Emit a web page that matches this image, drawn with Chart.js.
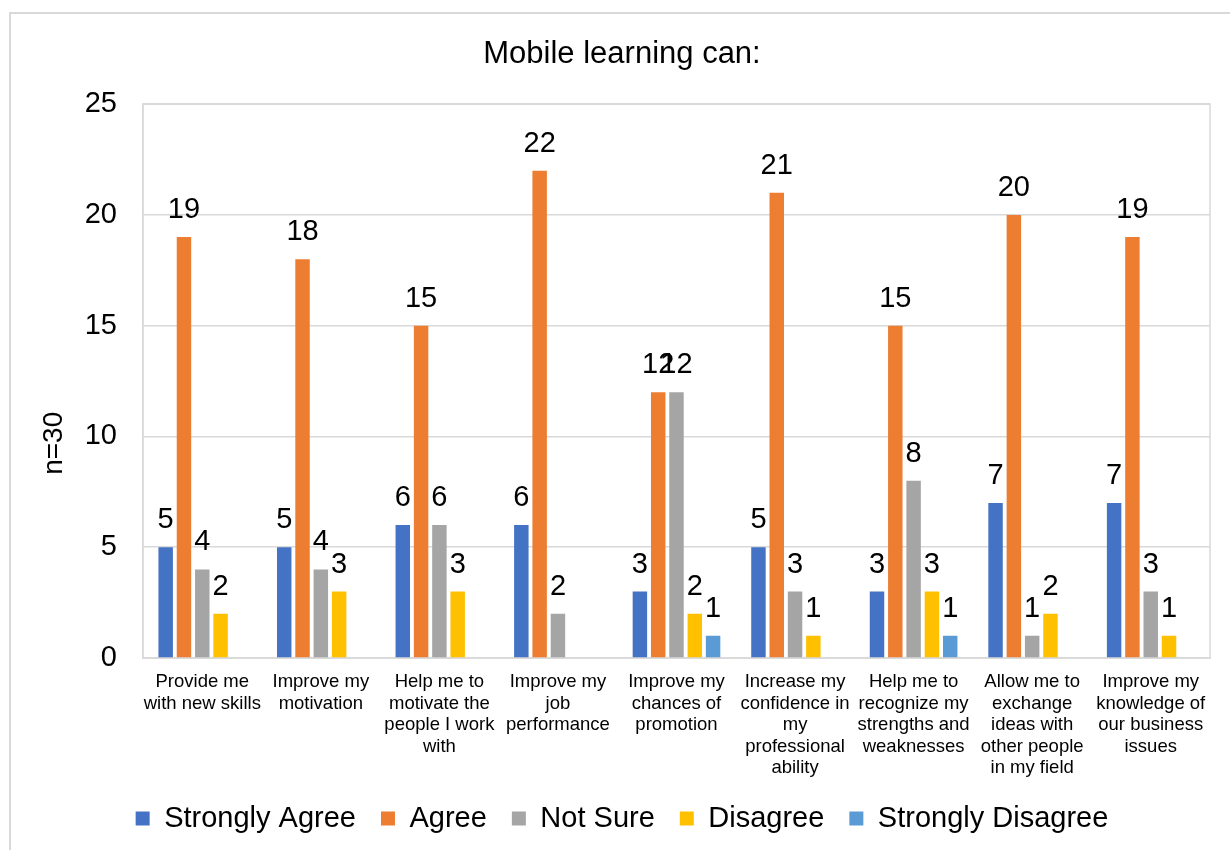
<!DOCTYPE html>
<html>
<head>
<meta charset="utf-8">
<title>Mobile learning can:</title>
<script src="https://cdn.jsdelivr.net/npm/chart.js@4.4.1/dist/chart.umd.min.js"></script>
<style>
    body { margin: 0; background: #fff; }
    canvas { display: block; }
</style>
</head>
<body>
<canvas id="mlChart" width="1230" height="850"></canvas>
<script>
// categories, wrapped the way the original labels wrap
const categories = [
    ['Provide me', 'with new skills'],
    ['Improve my', 'motivation'],
    ['Help me to', 'motivate the', 'people I work', 'with'],
    ['Improve my', 'job', 'performance'],
    ['Improve my', 'chances of', 'promotion'],
    ['Increase my', 'confidence in', 'my', 'professional', 'ability'],
    ['Help me to', 'recognize my', 'strengths and', 'weaknesses'],
    ['Allow me to', 'exchange', 'ideas with', 'other people', 'in my field'],
    ['Improve my', 'knowledge of', 'our business', 'issues']
];

const stronglyAgree    = [5, 5, 6, 6, 3, 5, 3, 7, 7];
const agree            = [19, 18, 15, 22, 12, 21, 15, 20, 19];
const notSure          = [4, 4, 6, 2, 12, 3, 8, 1, 3];
const disagree         = [2, 3, 3, 0, 2, 1, 3, 2, 1];
const stronglyDisagree = [0, 0, 0, 0, 1, 0, 1, 0, 0];

const yTicks = [0, 5, 10, 15, 20, 25];

const FONT = "'Liberation Sans', Arial, sans-serif";
const GRID = '#d9d9d9';

// value labels above each non-zero bar
const barLabels = {
    id: 'barLabels',
    afterDatasetsDraw(chart) {
        const ctx = chart.ctx;
        ctx.save();
        ctx.font = '29px ' + FONT;
        ctx.fillStyle = '#000';
        ctx.textAlign = 'center';
        ctx.textBaseline = 'alphabetic';
        chart.data.datasets.forEach((ds, i) => {
            const meta = chart.getDatasetMeta(i);
            meta.data.forEach((bar, j) => {
                const v = ds.data[j];
                if (!v) return;
                ctx.fillText(String(v), bar.x, bar.y - 19);
            });
        });
        ctx.restore();
    }
};

// outer chart frame + box around the plot area
const frames = {
    id: 'frames',
    beforeDraw(chart) {
        const ctx = chart.ctx;
        ctx.save();
        ctx.fillStyle = '#fff';
        ctx.fillRect(0, 0, chart.width, chart.height);
        ctx.strokeStyle = GRID;
        ctx.lineWidth = 2;
        ctx.strokeRect(10, 13, chart.width + 20, chart.height + 20);
        ctx.restore();
    },
    beforeDatasetsDraw(chart) {
        const a = chart.chartArea;
        const ctx = chart.ctx;
        ctx.save();
        ctx.strokeStyle = GRID;
        ctx.lineWidth = 1.5;
        ctx.strokeRect(a.left, a.top, a.right - a.left, a.bottom - a.top);
        ctx.restore();
    }
};

const ctx = document.getElementById('mlChart').getContext('2d');
const chart = new Chart(ctx, {
    type: 'bar',
    data: {
        labels: categories,
        datasets: [
            { label: 'Strongly Agree', data: stronglyAgree, backgroundColor: '#4472c4' },
            { label: 'Agree', data: agree, backgroundColor: '#ed7d31' },
            { label: 'Not Sure', data: notSure, backgroundColor: '#a5a5a5' },
            { label: 'Disagree', data: disagree, backgroundColor: '#ffc000' },
            { label: 'Strongly Disagree', data: stronglyDisagree, backgroundColor: '#5b9bd5' }
        ]
    },
    options: {
        responsive: false,
        animation: false,
        devicePixelRatio: 1,
        categoryPercentage: 0.772,
        barPercentage: 0.79,
        layout: { padding: { left: 34, right: 20, top: 0, bottom: 7 } },
        plugins: {
            title: {
                display: true,
                text: 'Mobile learning can:',
                color: '#000',
                font: { family: FONT, size: 31, weight: 'normal', lineHeight: 1.2 },
                padding: { top: 36, bottom: 31 }
            },
            legend: {
                position: 'bottom',
                labels: {
                    color: '#000',
                    font: { family: FONT, size: 29 },
                    boxWidth: 14,
                    boxHeight: 14,
                    padding: 25
                }
            },
            tooltip: { enabled: false }
        },
        scales: {
            x: {
                grid: { display: false },
                border: { display: true, color: GRID, width: 1.5 },
                ticks: {
                    color: '#000',
                    font: { family: FONT, size: 18.5, lineHeight: 1.17 },
                    padding: 5,
                    maxRotation: 0,
                    autoSkip: false
                },
                afterFit(scale) { scale.height = 121; }
            },
            y: {
                min: yTicks[0],
                max: yTicks[yTicks.length - 1],
                ticks: {
                    stepSize: yTicks[1] - yTicks[0],
                    color: '#000',
                    font: { family: FONT, size: 29 },
                    padding: 26
                },
                grid: { color: GRID, lineWidth: 1.5, drawTicks: false },
                border: { display: true, color: GRID, width: 1.5 },
                title: {
                    display: true,
                    // trailing spaces push the visible text below the axis centre, as in the original
                    text: 'n=30                ',
                    color: '#000',
                    font: { family: FONT, size: 28, lineHeight: 1.2 },
                    padding: { top: 3, bottom: 0 }
                },
                afterFit(scale) { scale.width = 109; }
            }
        }
    },
    plugins: [frames, barLabels]
});
</script>
</body>
</html>
